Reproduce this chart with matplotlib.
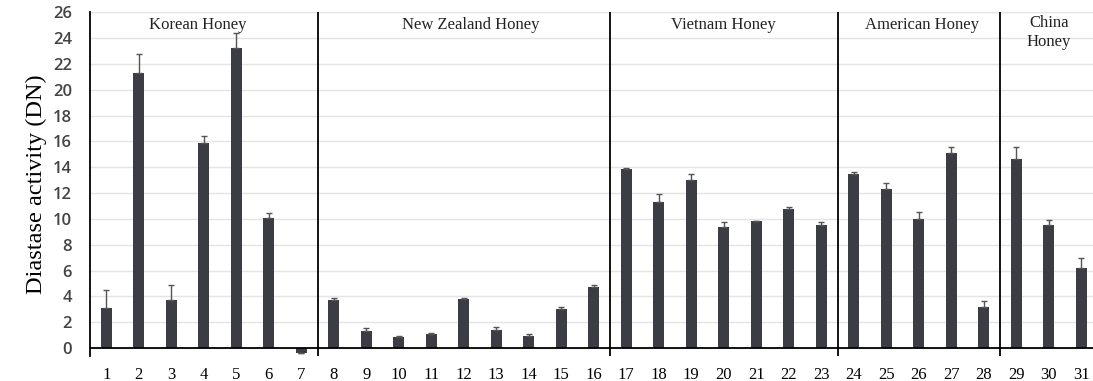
import matplotlib.pyplot as plt
import numpy as np

# actividad diastasa por muestra de miel
muestras = list(range(1, 32))
actividad = [3.1, 21.3, 3.7, 15.9, 23.2, 10.1, -0.4,
             3.7, 1.3, 0.85, 1.1, 3.8, 1.4, 0.95, 3.0, 4.7,
             13.9, 11.3, 13.0, 9.35, 9.8, 10.75, 9.55,
             13.5, 12.3, 10.0, 15.1, 3.2,
             14.65, 9.5, 6.2]
error = [1.4, 1.5, 1.2, 0.5, 1.2, 0.35, 0.05,
         0.2, 0.25, 0.1, 0.1, 0.1, 0.2, 0.1, 0.2, 0.2,
         0.05, 0.6, 0.5, 0.4, 0.05, 0.15, 0.2,
         0.1, 0.5, 0.5, 0.5, 0.45,
         0.95, 0.4, 0.8]

grupos = ["Korean Honey", "New Zealand Honey", "Vietnam Honey", "American Honey", "China\nHoney"]
limites = [7.5, 16.5, 23.5, 28.5]  # separadores entre grupos
centros = [3.8, 12.2, 20.0, 26.1, 30.0]

fig = plt.figure(figsize=(10.93, 3.81), dpi=100)
ax = fig.add_axes([90 / 1093, 1 - 355.8 / 381, 1003 / 1093, (355.8 - 12.3) / 381])

x = np.array(muestras)
ax.bar(x, actividad, width=0.34, color="#3c3c44", zorder=3)
# solo la barra de error superior
err_sup = [e if v > 0 else 0 for v, e in zip(actividad, error)]
ax.errorbar(x, actividad, yerr=[np.zeros(len(x)), err_sup], fmt="none",
            ecolor="#555555", elinewidth=1, capsize=2.5, capthick=1, zorder=4)

ax.set_ylim(-0.6, 26)
ax.set_xlim(0.5, 31.36)
ax.set_yticks(np.arange(0, 27, 2))
ax.yaxis.grid(True, color="#e4e4e4", lw=1, zorder=0)
ax.set_axisbelow(True)

ax.axhline(0, color="black", lw=1.3, zorder=5)
for l in limites:
    ax.axvline(l, color="black", lw=1.3, zorder=5)

for s in ["top", "right", "bottom"]:
    ax.spines[s].set_visible(False)
ax.spines["left"].set_linewidth(1.3)

ax.set_xticks(x)
ax.set_xticklabels([str(m) for m in muestras], family="Liberation Serif", fontsize=12)
ax.tick_params(axis="x", length=0, pad=8)
ax.tick_params(axis="y", length=0, pad=13, labelsize=12, labelcolor="#444444")
for t in ax.get_yticklabels():
    t.set_family("Open Sans")
    t.set_fontweight("semibold")

ax.set_ylabel("Diastase activity (DN)", family="Liberation Serif", fontsize=17.5, labelpad=4)

for g, c in zip(grupos, centros):
    if "\n" in g:
        ax.text(c, 25.8, g, ha="center", va="top", family="Liberation Serif",
                fontsize=12, color="#222222", linespacing=1.3)
    else:
        ax.text(c, 25.0, g, ha="center", va="center", family="Liberation Serif",
                fontsize=12, color="#222222")

fig.savefig("out.png", dpi=100)
